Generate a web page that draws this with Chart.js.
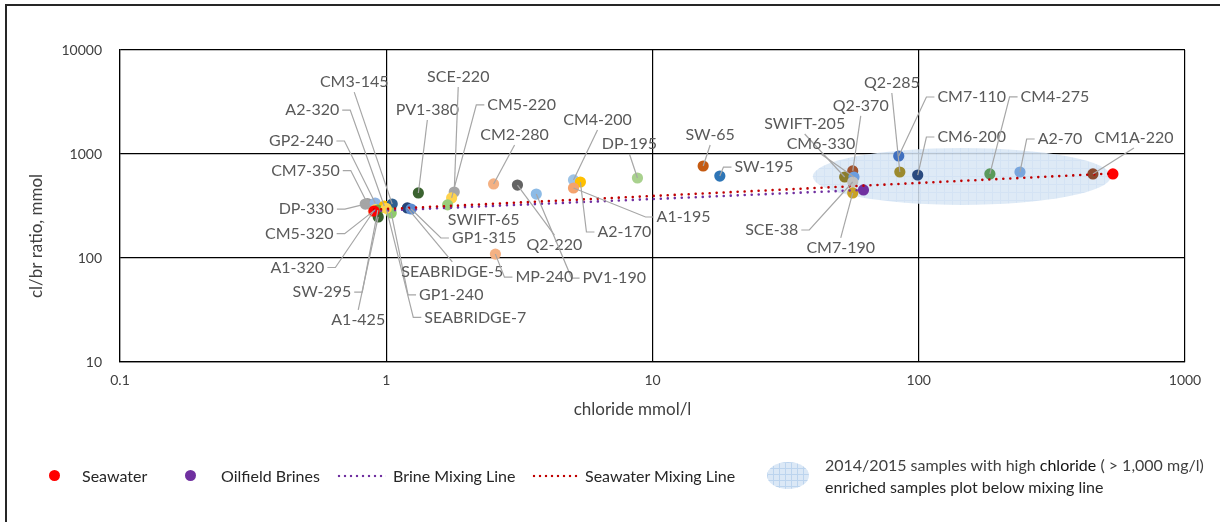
<!DOCTYPE html>
<html><head><meta charset="utf-8">
<script src="https://cdn.jsdelivr.net/npm/chart.js@4.4.0/dist/chart.umd.min.js"></script>
<style>
html,body{margin:0;padding:0;background:#fff;}
#wrap{position:relative;width:1220px;height:522px;overflow:hidden;font-family:Lato,"Open Sans",sans-serif;}
#frame{position:absolute;left:5px;top:4px;width:1400px;height:700px;border-left:2px solid #262626;border-top:2px solid #262626;box-sizing:border-box;}
#c{position:absolute;left:0;top:0;}
.lt{position:absolute;font-size:16px;color:#262626;white-space:nowrap;line-height:20px;}
.dot{position:absolute;width:11px;height:11px;border-radius:50%;}
.dl{position:absolute;height:4px;}
.ell{position:absolute;width:42px;height:27px;border-radius:50%;background-color:#dbe8f6;
 background-image:linear-gradient(#bcd4ee 1px,transparent 1px),linear-gradient(90deg,#bcd4ee 1px,transparent 1px);background-size:6px 6px;}
</style></head>
<body><div id="wrap">
<canvas id="c" width="1220" height="522"></canvas>
<div id="frame"></div>
<div class="dot" style="left:49px;top:470px;background:#ff0000"></div>
<div class="lt" style="left:82px;top:466px">Seawater</div>
<div class="dot" style="left:185px;top:470px;background:#7030a0"></div>
<div class="lt" style="left:221px;top:466px">Oilfield Brines</div>
<div class="dl" style="left:336px;top:474px;width:50px;background:radial-gradient(circle,#7030a0 1.3px,transparent 1.6px) 0 0/6px 4px repeat-x"></div>
<div class="lt" style="left:393px;top:466px">Brine Mixing Line</div>
<div class="dl" style="left:531px;top:474px;width:48px;background:radial-gradient(circle,#c00000 1.3px,transparent 1.6px) 0 0/6px 4px repeat-x"></div>
<div class="lt" style="left:585px;top:466px">Seawater Mixing Line</div>
<div class="ell" style="left:767px;top:462px"></div>
<div class="lt" style="left:825px;top:455px;color:#404040">2014/2015 samples with high <span style="color:#111">chloride</span> ( &gt; 1,000 mg/l)</div>
<div class="lt" style="left:825px;top:477px">enriched samples plot below mixing line</div>
</div>
<script>
// ---- data ----
const sampleNames = ["CM7-350","DP-330","GP2-240","A2-320","CM3-145","CM5-320","A1-320","SW-295","A1-425","GP1-240","SEABRIDGE-7","SEABRIDGE-5","GP1-315",
 "PV1-380","SCE-220","CM5-220","SWIFT-65","CM2-280","Q2-220","PV1-190","MP-240","CM4-200","A2-170","A1-195","DP-195","SW-65","SW-195",
 "Q2-370","SWIFT-205","CM6-330","SCE-38","CM7-190","Q2-285","CM7-110","CM6-200","CM4-275","A2-70","CM1A-220"];
const chlorideMmolL = [0.85,0.834,0.909,0.983,1.053,0.91,0.895,0.93,0.933,1.044,1.0,1.2,1.24,
 1.32,1.80,1.76,1.70,2.53,3.11,3.66,2.57,5.05,5.36,5.05,8.78,15.5,17.9,
 56.5,52.7,57.1,56.5,56.5,84.9,84.1,99.1,185,240,451];
const clBrRatio = [334,330,338,316,330,292,280,288,248,271,300,303,296,
 422,431,378,324,515,503,412,109,563,538,471,588,767,614,
 687,601,601,538,422,671,957,628,643,671,643];
const seawaterChloride = [0.9, 536];
const seawaterRatio = [283, 643];
const brineChloride = [62];
const brineRatio = [451];
const seawaterLineChloride = [0.9, 536];
const seawaterLineRatio = [292, 650];
const brineLineChloride = [0.9, 62];
const brineLineRatio = [283, 451];
const xTickValues = [0.1, 1, 10, 100, 1000];
const yTickValues = [10, 100, 1000, 10000];
const highChlorideZoneChloride = [40, 527];
const highChlorideZoneRatio = [324, 1143];

// ---- styles / layout (not data) ----
const sampleColors = ["#9a9a9a","#a5a5a5","#8fb4e3","#ffc000","#2f5f8f","#ffd966","#f4b183","#70ad47","#3b6330","#8fcc6a","#ffd34d","#264478","#5b8bd0",
 "#3b6330","#a6a6a6","#ffd34d","#9acd7a","#f4b183","#636363","#8dbbe6","#f4b183","#9dc3e6","#ffc000","#f4a36e","#a9d18e","#c55a11","#2e75b6",
 "#a0522d","#8b7d2b","#6d9ede","#c0c0c0","#c9a227","#9c8a2e","#3f6fbf","#2a4a7f","#5b9a5b","#79a6dd","#8b4a2f"];
// label offset from point (px) and leader attach side
const labelLayout = [[-62,-33,"R"],[-59,5,"R"],[-74,-62,"R"],[-72,-96,"R"],[-38,-122,"B"],[-76,24,"R"],[-76,56,"R"],[-56,82,"R"],[-20,103,"T"],[60,82,"L"],[89,109,"L"],[45,64,"T"],[73,29,"L"],
 [9,-83,"B"],[4,-115,"B"],[70,-93,"L"],[36,15,"N"],[21,-49,"B"],[37,60,"T"],[78,84,"L"],[49,23,"L"],[24,-60,"B"],[44,50,"L"],[110,29,"L"],[-8,-34,"B"],[7,-31,"B"],[44,-9,"L"],
 [8,-65,"B"],[-40,-53,"B"],[-33,-33,"B"],[-81,48,"R"],[-12,55,"T"],[-8,-89,"B"],[73,-59,"L"],[54,-38,"L"],[65,-77,"L"],[40,-33,"L"],[41,-36,"B"]];

const toXY = (xs, ys) => xs.map((x, i) => ({x, y: ys[i]}));

const zonePlugin = {
  id: 'zone',
  beforeDatasetsDraw(chart) {
    const {ctx, scales:{x, y}} = chart;
    const x1 = x.getPixelForValue(highChlorideZoneChloride[0]), x2 = x.getPixelForValue(highChlorideZoneChloride[1]);
    const y1 = y.getPixelForValue(highChlorideZoneRatio[1]), y2 = y.getPixelForValue(highChlorideZoneRatio[0]);
    const t = document.createElement('canvas'); t.width = 8; t.height = 8;
    const tc = t.getContext('2d');
    tc.fillStyle = '#d9e7f5'; tc.fillRect(0,0,8,8);
    tc.fillStyle = '#cddff2'; tc.fillRect(0,0,8,1); tc.fillRect(0,0,1,8);
    ctx.save();
    ctx.globalAlpha = 0.85;
    ctx.fillStyle = ctx.createPattern(t, 'repeat');
    ctx.beginPath();
    ctx.ellipse((x1+x2)/2, (y1+y2)/2, (x2-x1)/2, (y2-y1)/2, 0, 0, Math.PI*2);
    ctx.fill();
    ctx.restore();
  }
};

const calloutPlugin = {
  id: 'callouts',
  afterDatasetsDraw(chart) {
    const {ctx, scales:{x, y}} = chart;
    ctx.save();
    ctx.font = '16px Lato';
    ctx.textAlign = 'center'; ctx.textBaseline = 'middle';
    sampleNames.forEach((name, i) => {
      const px = x.getPixelForValue(chlorideMmolL[i]), py = y.getPixelForValue(clBrRatio[i]);
      const [dx, dy, mode] = labelLayout[i];
      const cx = px + dx, cy = py + dy;
      const w = ctx.measureText(name).width, h = 14;
      ctx.strokeStyle = '#a6a6a6'; ctx.lineWidth = 1.2;
      ctx.beginPath();
      if (mode === 'L') { ctx.moveTo(cx - w/2 - 3, cy); ctx.lineTo(cx - w/2 - 11, cy); ctx.lineTo(px, py); }
      else if (mode === 'R') { ctx.moveTo(cx + w/2 + 3, cy); ctx.lineTo(cx + w/2 + 11, cy); ctx.lineTo(px, py); }
      else if (mode === 'B') { ctx.moveTo(cx, cy + h/2 + 3); ctx.lineTo(px, py); }
      else if (mode === 'T') { ctx.moveTo(cx, cy - h/2 - 3); ctx.lineTo(px, py); }
      if (mode !== 'N') ctx.stroke();
      ctx.fillStyle = '#595959';
      ctx.fillText(name, cx, cy);
    });
    ctx.restore();
  }
};

const titlePlugin = {
  id: 'axisTitles',
  afterDraw(chart) {
    const {ctx, chartArea:a} = chart;
    ctx.save();
    ctx.fillStyle = '#404040';
    ctx.font = '17px Lato';
    ctx.textAlign = 'center'; ctx.textBaseline = 'middle';
    ctx.fillText('chloride mmol/l', (a.left + a.right)/2 - 20, a.bottom + 48);
    ctx.translate(37, (a.top + a.bottom)/2 + 30);
    ctx.rotate(-Math.PI/2);
    ctx.fillText('cl/br ratio, mmol', 0, 0);
    ctx.restore();
  }
};

const dots = { borderWidth: 2.6, borderDash: [0, 7], borderCapStyle: 'round', pointRadius: 0, showLine: true, fill: false };

new Chart(document.getElementById('c'), {
  type: 'scatter',
  data: {
    datasets: [
      Object.assign({label: 'Seawater Mixing Line', data: toXY(seawaterLineChloride, seawaterLineRatio), borderColor: '#c00000', order: 0}, dots),
      Object.assign({label: 'Brine Mixing Line', data: toXY(brineLineChloride, brineLineRatio), borderColor: '#7030a0', order: 1}, dots),
      {label: 'Seawater', data: toXY(seawaterChloride, seawaterRatio), backgroundColor: '#ff0000', borderColor: '#ff0000', pointRadius: 5.6, borderWidth: 0, order: 2},
      {label: 'Oilfield Brines', data: toXY(brineChloride, brineRatio), backgroundColor: '#7030a0', borderColor: '#7030a0', pointRadius: 5.6, borderWidth: 0, order: 3},
      {label: 'Samples', data: toXY(chlorideMmolL, clBrRatio), backgroundColor: sampleColors, borderColor: sampleColors, pointRadius: 5.6, borderWidth: 0, order: 4}
    ]
  },
  options: {
    responsive: false, animation: false, events: [],
    layout: { padding: { left: 0, top: 50, right: 35, bottom: 102 } },
    plugins: { legend: { display: false }, tooltip: { enabled: false } },
    scales: {
      x: {
        type: 'logarithmic', min: 0.1, max: 1000,
        afterBuildTicks: s => { s.ticks = xTickValues.map(v => ({value: v})); },
        afterFit: s => { s.height = 58; },
        ticks: { callback: v => String(v), font: { family: 'Lato', size: 14 }, color: '#404040', padding: 10, maxRotation: 0, autoSkip: false },
        grid: { color: '#000', lineWidth: 1.2, drawTicks: false },
        border: { color: '#000', width: 1.2 }
      },
      y: {
        type: 'logarithmic', min: 10, max: 10000,
        afterBuildTicks: s => { s.ticks = yTickValues.map(v => ({value: v})); },
        afterFit: s => { s.width = 120; },
        ticks: { callback: v => String(v), font: { family: 'Lato', size: 14 }, color: '#404040', padding: 18, autoSkip: false },
        grid: { color: '#000', lineWidth: 1.2, drawTicks: false },
        border: { color: '#000', width: 1.2 }
      }
    }
  },
  plugins: [zonePlugin, calloutPlugin, titlePlugin]
});
</script>
</body></html>
